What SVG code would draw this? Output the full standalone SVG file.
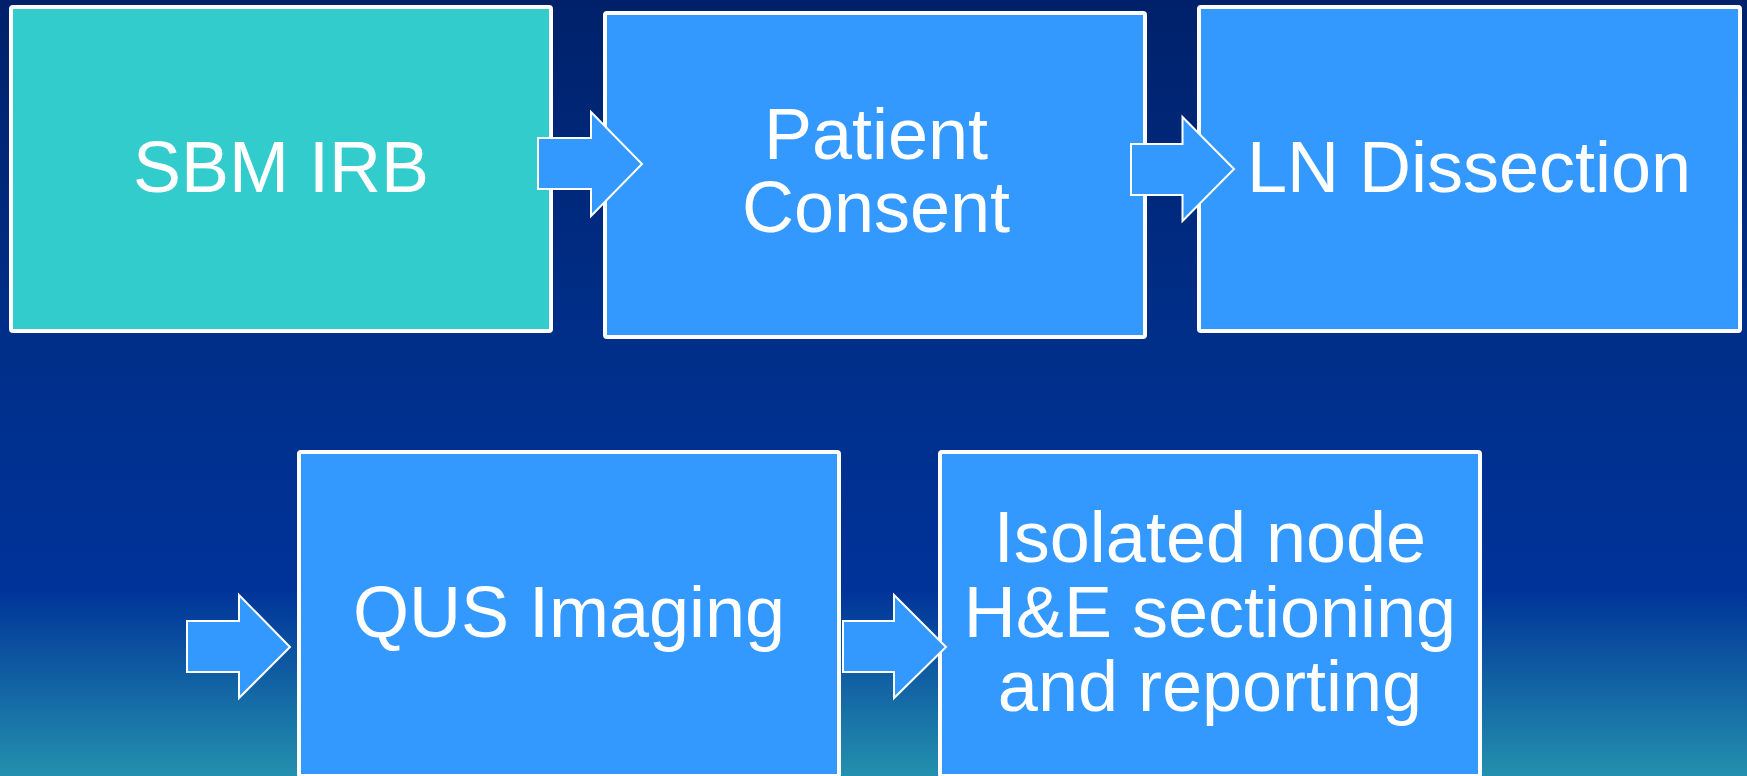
<svg xmlns="http://www.w3.org/2000/svg" width="1747" height="776" viewBox="0 0 1747 776">
  <defs>
    <linearGradient id="bg" x1="0" y1="0" x2="0" y2="1">
      <stop offset="0" stop-color="#00216A"/>
      <stop offset="0.45" stop-color="#002F8A"/>
      <stop offset="0.76" stop-color="#003399"/>
      <stop offset="1" stop-color="#2390AD"/>
    </linearGradient>
    <style>
      .box { stroke: #FFFFFF; stroke-width: 4; }
      .teal { fill: #33CCCC; }
      .blue { fill: #3399FF; }
      .lbl { fill: #FFFFFF; font-family: "Liberation Sans", Arial, sans-serif; font-size: 72px; text-anchor: middle; }
      .arrow { fill: #3399FF; stroke: #FFFFFF; stroke-width: 2; stroke-linejoin: miter; }
    </style>
  </defs>
  <rect x="0" y="0" width="1747" height="776" fill="url(#bg)"/>

  <g id="node-sbm-irb">
    <rect class="box teal" x="11" y="7" width="540" height="324" rx="2"/>
    <text class="lbl" x="281" y="192">SBM IRB</text>
  </g>
  <g id="node-patient-consent">
    <rect class="box blue" x="605" y="13" width="540" height="324" rx="2"/>
    <text class="lbl" x="876" y="159">Patient</text>
    <text class="lbl" x="876" y="232">Consent</text>
  </g>
  <g id="node-ln-dissection">
    <rect class="box blue" x="1199" y="7" width="541" height="324" rx="2"/>
    <text class="lbl" x="1469" y="192">LN Dissection</text>
  </g>
  <g id="node-qus-imaging">
    <rect class="box blue" x="299" y="452" width="540" height="324" rx="2"/>
    <text class="lbl" x="569" y="637">QUS Imaging</text>
  </g>
  <g id="node-isolated-node">
    <rect class="box blue" x="940" y="452" width="540" height="324" rx="2"/>
    <text class="lbl" x="1210" y="562">Isolated node</text>
    <text class="lbl" x="1210" y="637">H&amp;E sectioning</text>
    <text class="lbl" x="1210" y="711">and reporting</text>
  </g>

  <g id="connectors">
    <path class="arrow" d="M538,138 H591 V112 L642,164 L591,216 V189 H538 Z"/>
    <path class="arrow" d="M1131,144 H1182.5 V117 L1234,169 L1182.5,221 V195 H1131 Z"/>
    <path class="arrow" d="M187,621 H239 V595 L290,647 L239,698 V672 H187 Z"/>
    <path class="arrow" d="M843,621 H894 V595 L946,647 L894,698 V672 H843 Z"/>
  </g>
</svg>
